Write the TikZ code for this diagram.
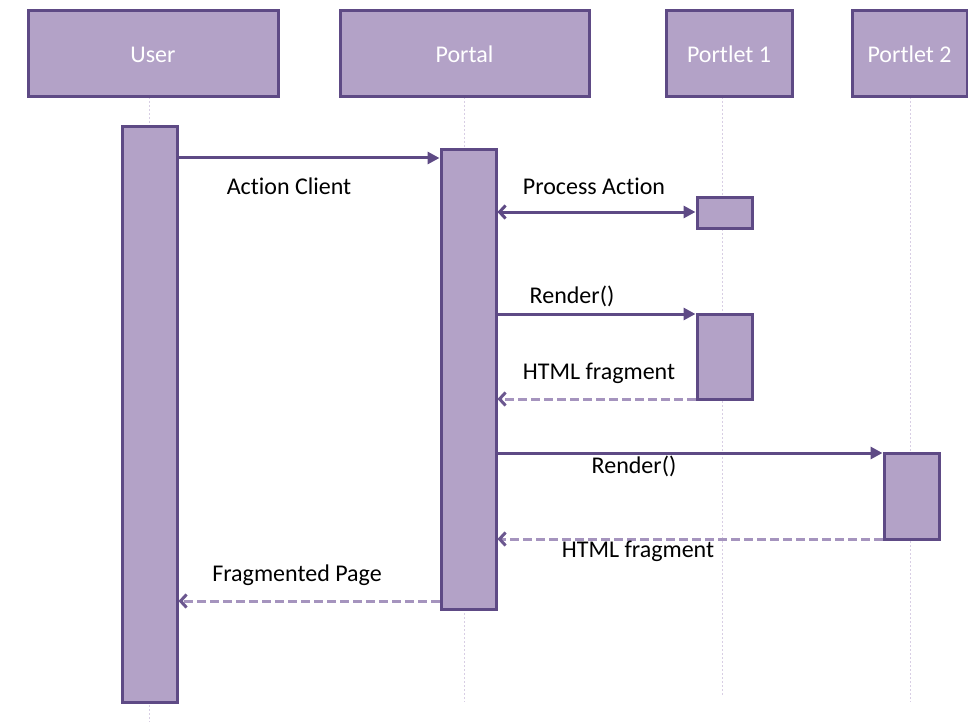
\documentclass[tikz,border=0pt]{standalone}
\usepackage{fontspec}
\setmainfont{Carlito}[Ligatures=NoCommon]
\usetikzlibrary{calc,arrows.meta}
\definecolor{lilac}{HTML}{B3A2C7}
\definecolor{plum}{HTML}{5E4A85}
\definecolor{faintline}{HTML}{D8CEE4}
\definecolor{replyline}{HTML}{A594BE}
% actor head box with its lifeline: name, left, right, lifeline x, lifeline end, text
\def\Actor#1#2#3#4#5#6{%
  \coordinate (#1 top) at (#4,97);
  \coordinate (#1 foot) at (#4,#5);
  \draw[life line] (#1 top) -- (#1 foot);
  \node[actor box, minimum width=#3-#2] (#1) at ({(#2+#3)/2},54) {#6};
}
% activation bar: name, left, top, right, bottom
\def\Bar#1#2#3#4#5{%
  \node[act bar, minimum width=#4-#2, minimum height=#5-#3] (#1) at ({(#2+#4)/2},{(#3+#5)/2}) {};
}
\tikzset{x=1pt, y=-1pt,
  actor box/.style={draw=plum, fill=lilac, line width=3pt, minimum height=86pt,
     inner sep=0pt, text=white, font=\fontsize{24}{28}\selectfont,
     text height=18pt, text depth=0pt},
  act bar/.style={draw=plum, fill=lilac, line width=3pt, inner sep=0pt},
  life line/.style={draw=faintline, line width=1pt, dash pattern=on 2pt off 2pt},
  call/.style={draw=plum, line width=3pt, -{Triangle[length=12pt,width=12pt]}},
  reply/.style={draw=replyline, line width=3pt, dash pattern=on 9pt off 4pt,
     -{Straight Barb[length=6pt,width=13pt,color=plum!85!lilac]}},
  both ways/.style={draw=plum, line width=3pt,
     {Straight Barb[length=6pt,width=13pt]}-{Triangle[length=12pt,width=12pt]}},
  msg/.style={font=\fontsize{24}{28}\selectfont, text=black, inner sep=0pt}
}
\begin{document}
\begin{tikzpicture}
\useasboundingbox (0,0) rectangle (968,722);

% heads and lifelines
\Actor{user}{28}{278}{149}{722}{User}
\Actor{portal}{340}{589}{464}{702}{Portal}
\Actor{portletA}{666}{792}{722}{695}{Portlet 1}
\Actor{portletB}{852}{967}{910}{702}{Portlet 2}

% activation bars
\Bar{userbar}{122}{127}{177}{702}
\Bar{portalbar}{441}{150}{496}{609}
\Bar{actbar}{697}{197}{752}{228}
\Bar{renderbarA}{697}{314}{752}{399}
\Bar{renderbarB}{884}{453}{939}{539}

% message levels
\coordinate (m1) at (0,158);
\coordinate (m2) at (0,212);
\coordinate (m3) at (0,314);
\coordinate (m4) at (0,399);
\coordinate (m5) at (0,453);
\coordinate (m6) at (0,539);
\coordinate (m7) at (0,601);

\draw[call] (userbar.east |- m1) -- (portalbar.west |- m1);
\draw[both ways] (portalbar.east |- m2) -- (actbar.west |- m2);
\draw[call] (portalbar.east |- m3) -- (renderbarA.west |- m3);
\draw[reply] (renderbarA.west |- m4) -- (portalbar.east |- m4);
\draw[call] (portalbar.east |- m5) -- (renderbarB.west |- m5);
\draw[reply] (renderbarB.west |- m6) -- (portalbar.east |- m6);
\draw[reply] (portalbar.west |- m7) -- (userbar.east |- m7);

% labels
\node[msg] (actionlbl) at (289,186) {Action Client};
\node[msg] (processlbl) at (594,186) {Process Action};
\node[msg] (renderlblA) at (572,296) {Render()};
\node[msg] (htmllblA) at (599,373) {HTML fragment};
\node[msg] (renderlblB) at (634,466) {Render()};
\node[msg] (htmllblB) at (638,551) {HTML fragment};
\node[msg] (pagelbl) at (297,575) {Fragmented Page};
\end{tikzpicture}
\end{document}
